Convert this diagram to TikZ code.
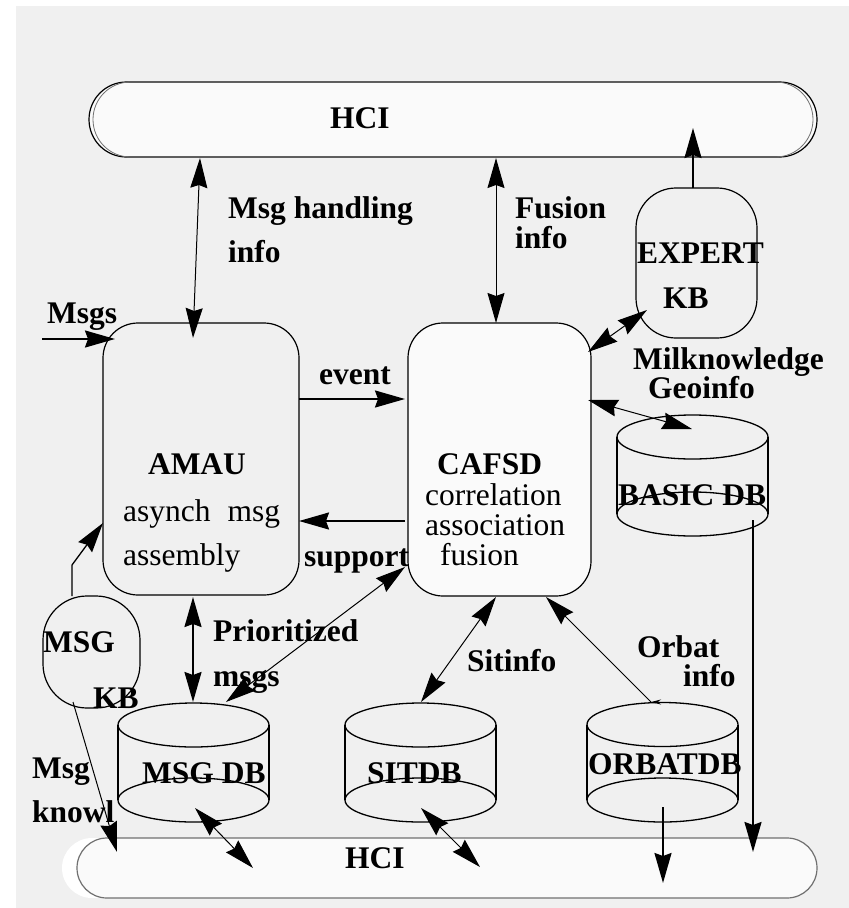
\documentclass[tikz,border=0pt]{standalone}
\usepackage{fontspec}
\setmainfont{Liberation Serif}
\usetikzlibrary{arrows.meta}

\definecolor{paper}{HTML}{F0F0F0}
\definecolor{boxfill}{HTML}{FAFAFA}
\definecolor{rimgray}{HTML}{707070}

\tikzset{
  >={Stealth[length=30pt,width=17pt,inset=3pt]},
  lbl/.style={font=\bfseries\fontsize{31.5}{36}\selectfont, anchor=base west, inner sep=0pt},
  txt/.style={font=\fontsize{31.5}{36}\selectfont, anchor=base west, inner sep=0pt},
  unit/.style={draw, line width=1.2pt, inner sep=0pt},
  slot/.style={inner sep=0pt, draw=none},
  thin/.style={line width=1pt},
  thick/.style={line width=2pt},
  db/.style={line width=1.3pt},
}

\begin{document}
\begin{tikzpicture}[x=1pt, y=-1pt]
\useasboundingbox (0,0) rectangle (849,908);
\fill[paper] (16,6) rectangle (849,908);

% ---------------- HCI bars ----------------
\node[unit, fill=boxfill, rounded corners=37.5pt, minimum width=728pt, minimum height=75pt] (hcitop) at (453,119.5) {};
\draw[rimgray, line width=0.8pt, rounded corners=37.5pt] (93,82) rectangle (813,157);
\node[lbl] (hcitoptxt) at (330,128) {HCI};

\fill[white, rounded corners=30pt] (62,838) rectangle (300,898);
\node[draw=rimgray, line width=1.2pt, inner sep=0pt, fill=boxfill, rounded corners=30pt, minimum width=740pt, minimum height=60pt] (hcibot) at (447,868) {};
\node[lbl] (hcibottxt) at (345,868) {HCI};

% ---------------- processing units ----------------
\node[unit, fill=paper, rounded corners=35pt, minimum width=196pt, minimum height=272pt] (amau) at (201,459) {};
\node[lbl, anchor=base] (amautxt) at (197,474) {AMAU};
\node[txt] (amau1) at (123,521) {asynch\hskip 17pt msg};
\node[txt] (amau2) at (123,565) {assembly};

\node[unit, fill=boxfill, rounded corners=35pt, minimum width=183pt, minimum height=273pt] (cafsd) at (499.5,459.5) {};
\node[lbl] (cafsdtxt) at (437,474) {CAFSD};
\node[txt] (cafsd1) at (425,505) {correlation};
\node[txt] (cafsd2) at (425,535) {association};
\node[txt] (cafsd3) at (440,565) {fusion};

\node[unit, fill=paper, rounded corners=40pt, minimum width=121pt, minimum height=150pt] (expert) at (696.5,263) {};
\node[lbl] (experttxt) at (637,263) {EXPERT};
\node[lbl] (expertkb) at (663,308) {KB};

\node[unit, fill=paper, rounded corners=44pt, minimum width=97pt, minimum height=112pt] (msgkb) at (91.5,652) {};
\node[lbl] (msgkbtxt) at (43,652) {MSG};
\node[lbl] (msgkbkb) at (93,708) {KB};

% ---------------- databases (cylinders) ----------------
% BASIC DB
\node[slot, minimum width=151pt, minimum height=121pt] (basic) at (692.5,475.5) {};
\draw[db] (692.5,437) ellipse [x radius=75.5pt, y radius=22pt];
\draw[db] (692.5,514) ellipse [x radius=75.5pt, y radius=22pt];
\draw[db] (617,437) -- (617,514) (768,437) -- (768,514);
\node[lbl] (basictxt) at (618,505) {BASIC DB};

% MSG DB
\node[slot, minimum width=151pt, minimum height=120pt] (msgdb) at (193.5,763) {};
\draw[db] (193.5,725) ellipse [x radius=75.5pt, y radius=22pt];
\draw[db] (193.5,800) ellipse [x radius=75.5pt, y radius=22pt];
\draw[db] (118,725) -- (118,800) (269,725) -- (269,800);
\node[lbl] (msgdbtxt) at (142,783) {MSG DB};

% SITDB
\node[slot, minimum width=151pt, minimum height=120pt] (sitdb) at (420.5,763) {};
\draw[db] (420.5,725) ellipse [x radius=75.5pt, y radius=22pt];
\draw[db] (420.5,800) ellipse [x radius=75.5pt, y radius=22pt];
\draw[db] (345,725) -- (345,800) (496,725) -- (496,800);
\node[lbl] (sitdbtxt) at (367,783) {SITDB};

% ORBATDB
\node[slot, minimum width=151pt, minimum height=120pt] (orbatdb) at (662.5,762.5) {};
\draw[db] (662.5,724.5) ellipse [x radius=75.5pt, y radius=22pt];
\draw[db] (662.5,800) ellipse [x radius=75.5pt, y radius=22pt];
\draw[db] (587,724.5) -- (587,800) (738,724.5) -- (738,800);
\node[lbl] (orbattxt) at (588,774) {ORBATDB};

% ---------------- connector end points ----------------
\coordinate (mhTop) at (200,158);   \coordinate (mhBot) at (193,338);
\coordinate (fuTop) at (496,158);   \coordinate (fuBot) at (496,323);
\coordinate (exUp) at (693,188);    \coordinate (exHci) at (693,128);
\coordinate (msgsIn) at (42,339);   \coordinate (msgsTip) at (115,339);
\coordinate (evA) at (299,399);     \coordinate (evB) at (405,399);
\coordinate (spA) at (405,521);     \coordinate (spB) at (299,521);
\coordinate (kbA) at (72,596);      \coordinate (kbBend) at (72,565);  \coordinate (kbB) at (103,523);
\coordinate (cxA) at (588,352);     \coordinate (cxB) at (647,310);
\coordinate (cbA) at (588,400);     \coordinate (cbB) at (692,429);
\coordinate (bdA) at (753,520);     \coordinate (bdB) at (753,852);
\coordinate (pmA) at (193,597);     \coordinate (pmB) at (193,702);
\coordinate (cmA) at (405,567);     \coordinate (cmB) at (226,702);
\coordinate (siA) at (496,597);     \coordinate (siB) at (421,702);
\coordinate (obA) at (651,702);     \coordinate (obB) at (546,597);
\coordinate (obTail) at (667,702);
\coordinate (odA) at (663,807);     \coordinate (odB) at (663,883);
\coordinate (mhA) at (195,808);     \coordinate (mhB) at (253,868);
\coordinate (shA) at (421,808);     \coordinate (shB) at (480,867);
\coordinate (knA) at (73,702);      \coordinate (knB) at (117,852);

% ---------------- connectors ----------------
\draw[thin, <->] (mhTop) -- (mhBot);
\draw[thin, <->] (fuTop) -- (fuBot);
\draw[thick, ->] (exUp) -- (exHci);
\draw[thick, ->] (msgsIn) -- (msgsTip);
\draw[thick, ->] (evA) -- (evB);
\draw[thick, ->] (spA) -- (spB);
\draw[line width=1.3pt, ->] (kbA) -- (kbBend) -- (kbB);
\draw[thin, <->] (cxA) -- (cxB);
\draw[thin, <->] (cbA) -- (cbB);
\draw[thick, ->] (bdA) -- (bdB);
\draw[thick, <->] (pmA) -- (pmB);
\draw[thin, <->] (cmA) -- (cmB);
\draw[thin, <->] (siA) -- (siB);
\draw[thin, ->] (obA) -- (obB);
\draw[thin, -{Stealth[length=10pt,width=5pt]}] (obTail) -- (obA);
\draw[thick, ->] (odA) -- (odB);
\draw[thin, <->] (mhA) -- (mhB);
\draw[thin, <->] (shA) -- (shB);
\draw[thin, ->] (knA) -- (knB);

% ---------------- connector labels ----------------
\node[lbl] (lmh1) at (228,218) {Msg handling};
\node[lbl] (lmh2) at (228,262) {info};
\node[lbl] (lfu1) at (515,218) {Fusion};
\node[lbl] (lfu2) at (515,248) {info};
\node[lbl] (lmsgs) at (47,323) {Msgs};
\node[lbl] (lev) at (319,384) {event};
\node[lbl] (lsp) at (304,566) {support};
\node[lbl] (lmk1) at (633,369) {Milknowledge};
\node[lbl] (lmk2) at (648,398) {Geoinfo};
\node[lbl] (lpm1) at (213,641) {Prioritized};
\node[lbl] (lpm2) at (213,686) {msgs};
\node[lbl] (lsi) at (467,671) {Sitinfo};
\node[lbl] (lob1) at (637,657) {Orbat};
\node[lbl] (lob2) at (683,686) {info};
\node[lbl] (lkn1) at (32,778) {Msg};
\node[lbl] (lkn2) at (32,822) {knowl};
\end{tikzpicture}
\end{document}
